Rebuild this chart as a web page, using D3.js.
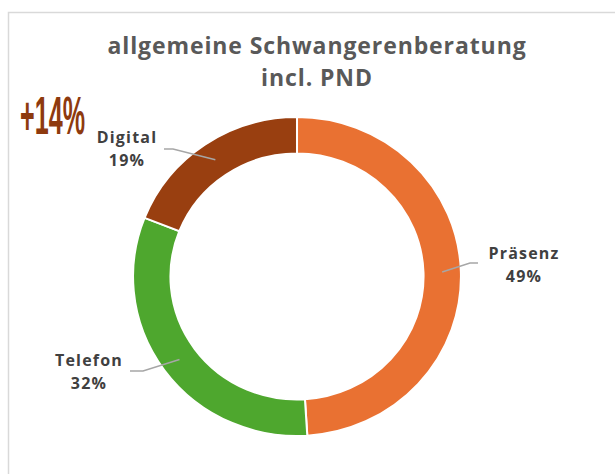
<!DOCTYPE html>
<html>
<head>
<meta charset="utf-8">
<script src="https://cdn.jsdelivr.net/npm/d3@7"></script>
<style>
  html, body { margin: 0; padding: 0; background: #fff; }
  svg { display: block; }
</style>
</head>
<body>
<svg id="chart" width="615" height="474"></svg>
<script>
// Data
const categories = ['Präsenz', 'Telefon', 'Digital'];
const shares = [49, 32, 19];
const colors = ['#E97132', '#4EA72E', '#993F10'];
const titleLines = ['allgemeine Schwangerenberatung', 'incl. PND'];
const badge = '+14%';

// Label layout (text center x, first baseline y, elbow point, line end)
const labelLayout = [
    { x: 524, y: 259, elbow: [470, 263], end: [478, 263] },
    { x: 89, y: 366, elbow: [143, 371], end: [130, 371] },
    { x: 127, y: 143, elbow: [173, 149], end: [164, 149] },
];

const svg = d3.select('#chart');
const W = 615, H = 474;

// outer frame
svg.append('rect')
    .attr('x', 8.5).attr('y', 12.5)
    .attr('width', W + 10).attr('height', H + 10)
    .attr('fill', 'none')
    .attr('stroke', '#d9d9d9')
    .attr('stroke-width', 1.5);

// title
svg.append('text')
    .attr('text-anchor', 'middle')
    .attr('font-family', 'Open Sans, sans-serif')
    .attr('font-weight', 700)
    .attr('font-size', 23)
    .attr('letter-spacing', 0.9)
    .attr('fill', '#595959')
    .selectAll('tspan')
    .data(titleLines)
    .join('tspan')
    .attr('x', 317)
    .attr('y', (d, i) => 54 + i * 32)
    .text(d => d);

// +14% badge, squeezed horizontally to the narrow look of the original
const badgeText = svg.append('text')
    .attr('font-family', 'Liberation Sans Narrow, Liberation Sans, sans-serif')
    .attr('font-weight', 700)
    .attr('font-size', 54)
    .attr('fill', '#8E3A0E')
    .text(badge);
const badgeW = badgeText.node().getComputedTextLength();
badgeText.attr('transform', `translate(20,134) scale(${65 / badgeW},1)`);

// donut
const cx = 297, cy = 276.5;
const sx = 1.014, sy = 0.986;
const outerR = 161.7, innerR = 124.8;

const pie = d3.pie().sort(null).value(d => d)(shares);
const arc = d3.arc().innerRadius(innerR).outerRadius(outerR);

const g = svg.append('g')
    .attr('transform', `translate(${cx},${cy}) scale(${sx},${sy})`);

g.selectAll('path.slice')
    .data(pie)
    .join('path')
    .attr('class', 'slice')
    .attr('d', arc)
    .attr('fill', (d, i) => colors[i])
    .attr('stroke', '#fff')
    .attr('stroke-width', 2);

// leader lines + labels
pie.forEach((d, i) => {
    const [ax, ay] = arc.centroid(d);
    const start = [cx + ax * sx, cy + ay * sy];
    const L = labelLayout[i];
    svg.append('path')
        .attr('d', d3.line()([start, L.elbow, L.end]))
        .attr('fill', 'none')
        .attr('stroke', '#a6a6a6')
        .attr('stroke-width', 1.5);

    const t = svg.append('text')
        .attr('text-anchor', 'middle')
        .attr('font-family', 'Open Sans, sans-serif')
        .attr('font-weight', 700)
        .attr('font-size', 16)
        .attr('letter-spacing', 1.2)
        .attr('fill', '#404040');
    t.append('tspan').attr('x', L.x).attr('y', L.y).text(categories[i]);
    t.append('tspan').attr('x', L.x).attr('y', L.y + 23).text(shares[i] + '%');
});
</script>
</body>
</html>
